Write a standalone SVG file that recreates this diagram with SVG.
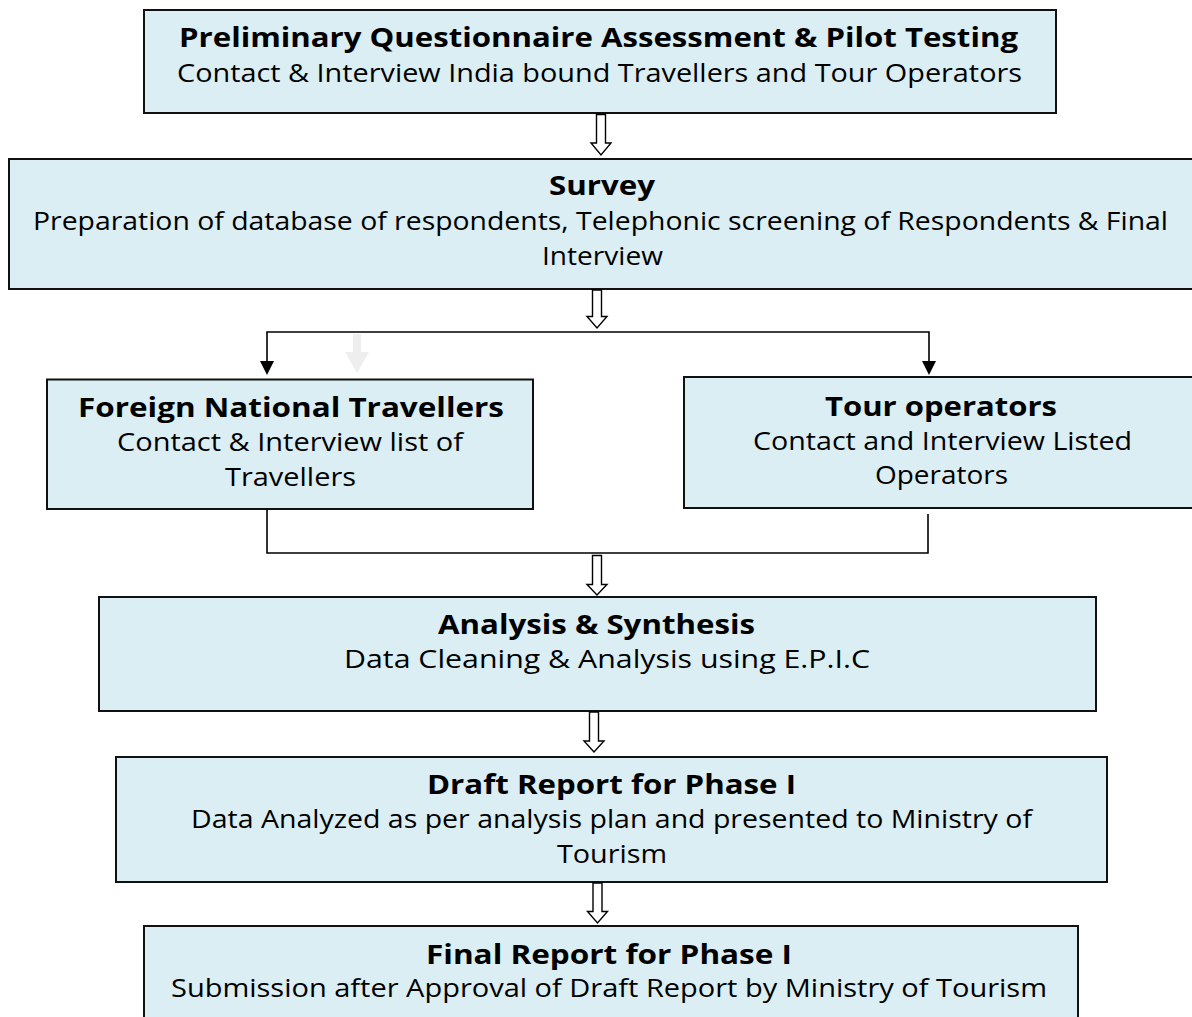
<svg xmlns="http://www.w3.org/2000/svg" width="1192" height="1017" viewBox="0 0 1192 1017">
<style>
.box{fill:#DAEEF3;stroke:#111;stroke-width:2}
text{font-family:"Open Sans","DejaVu Sans",sans-serif;font-size:26px;fill:#000;text-anchor:middle}
.t{font-weight:bold}
.hollow{fill:#fff;stroke:#000;stroke-width:1.4;stroke-linejoin:miter}
.line{fill:none;stroke:#000;stroke-width:1.6}
</style>
<defs>
<marker id="tri" markerWidth="14" markerHeight="16" refX="7" refY="15" orient="auto" markerUnits="userSpaceOnUse" viewBox="0 0 14 16">
<path d="M0,0 L14,0 L7,15 Z" fill="#000" transform="rotate(-90 7 8) translate(0 0)"/>
</marker>
</defs>
<rect width="1192" height="1017" fill="#fff"/>

<g id="node-prelim">
<rect class="box" x="144" y="10" width="912" height="103"/>
<text class="t" x="598.5" y="47" textLength="839" lengthAdjust="spacingAndGlyphs">Preliminary Questionnaire Assessment &amp; Pilot Testing</text>
<text x="599.5" y="82" textLength="845" lengthAdjust="spacingAndGlyphs">Contact &amp; Interview India bound Travellers and Tour Operators</text>
</g>

<g id="node-survey">
<rect class="box" x="9" y="159" width="1190" height="130"/>
<text class="t" x="602" y="195" textLength="106" lengthAdjust="spacingAndGlyphs">Survey</text>
<text x="600.5" y="230" textLength="1135" lengthAdjust="spacingAndGlyphs">Preparation of database of respondents, Telephonic screening of Respondents &amp; Final</text>
<text x="602.5" y="265" textLength="121" lengthAdjust="spacingAndGlyphs">Interview</text>
</g>

<g id="node-foreign">
<rect class="box" x="47" y="379.5" width="486" height="129.5"/>
<text class="t" x="291" y="417" textLength="426" lengthAdjust="spacingAndGlyphs">Foreign National Travellers</text>
<text x="290" y="451" textLength="346" lengthAdjust="spacingAndGlyphs">Contact &amp; Interview list of</text>
<text x="290.5" y="486" textLength="131" lengthAdjust="spacingAndGlyphs">Travellers</text>
</g>

<g id="node-tour">
<rect class="box" x="684" y="377" width="520" height="131"/>
<text class="t" x="941" y="416" textLength="232" lengthAdjust="spacingAndGlyphs">Tour operators</text>
<text x="942.5" y="450" textLength="379" lengthAdjust="spacingAndGlyphs">Contact and Interview Listed</text>
<text x="941.5" y="484" textLength="133" lengthAdjust="spacingAndGlyphs">Operators</text>
</g>

<g id="node-analysis">
<rect class="box" x="99" y="597" width="997" height="114"/>
<text class="t" x="596.5" y="634" textLength="317" lengthAdjust="spacingAndGlyphs">Analysis &amp; Synthesis</text>
<text x="607" y="668" textLength="526" lengthAdjust="spacingAndGlyphs">Data Cleaning &amp; Analysis using E.P.I.C</text>
</g>

<g id="node-draft">
<rect class="box" x="116" y="757" width="991" height="125"/>
<text class="t" x="611.5" y="794" textLength="369" lengthAdjust="spacingAndGlyphs">Draft Report for Phase I</text>
<text x="611.5" y="828" textLength="841" lengthAdjust="spacingAndGlyphs">Data Analyzed as per analysis plan and presented to Ministry of</text>
<text x="612" y="863" textLength="110" lengthAdjust="spacingAndGlyphs">Tourism</text>
</g>

<g id="node-final">
<rect class="box" x="144" y="926" width="934" height="110"/>
<text class="t" x="609" y="964" textLength="366" lengthAdjust="spacingAndGlyphs">Final Report for Phase I</text>
<text x="609" y="997" textLength="876" lengthAdjust="spacingAndGlyphs">Submission after Approval of Draft Report by Ministry of Tourism</text>
</g>

<g id="connectors">
<polygon class="hollow" points="596.5,114.5 605.5,114.5 605.5,143 611,143 601,155 591,143 596.5,143"/>
<polygon class="hollow" points="592.5,290 601.5,290 601.5,316.5 607,316.5 597,328 587,316.5 592.5,316.5"/>
<polygon class="hollow" points="592.5,555.5 601.5,555.5 601.5,584.5 607,584.5 597,595 587,584.5 592.5,584.5"/>
<polygon class="hollow" points="589.5,712 598.5,712 598.5,741 604,741 594,752 584,741 589.5,741"/>
<polygon class="hollow" points="593,883 602,883 602,911.5 607.5,911.5 597.5,923 587.5,911.5 593,911.5"/>

<polyline class="line" points="267,362 267,332 929,332 929,362"/>
<polygon points="260,361 274,361 267,375" fill="#000"/>
<polygon points="922,361 936,361 929,375" fill="#000"/>

<polygon points="353,334 361,334 361,352 369,352 357,373 345,352 353,352" fill="#eeeeee"/>

<polyline class="line" points="267,509 267,553 928,553 928,514"/>
</g>
</svg>
